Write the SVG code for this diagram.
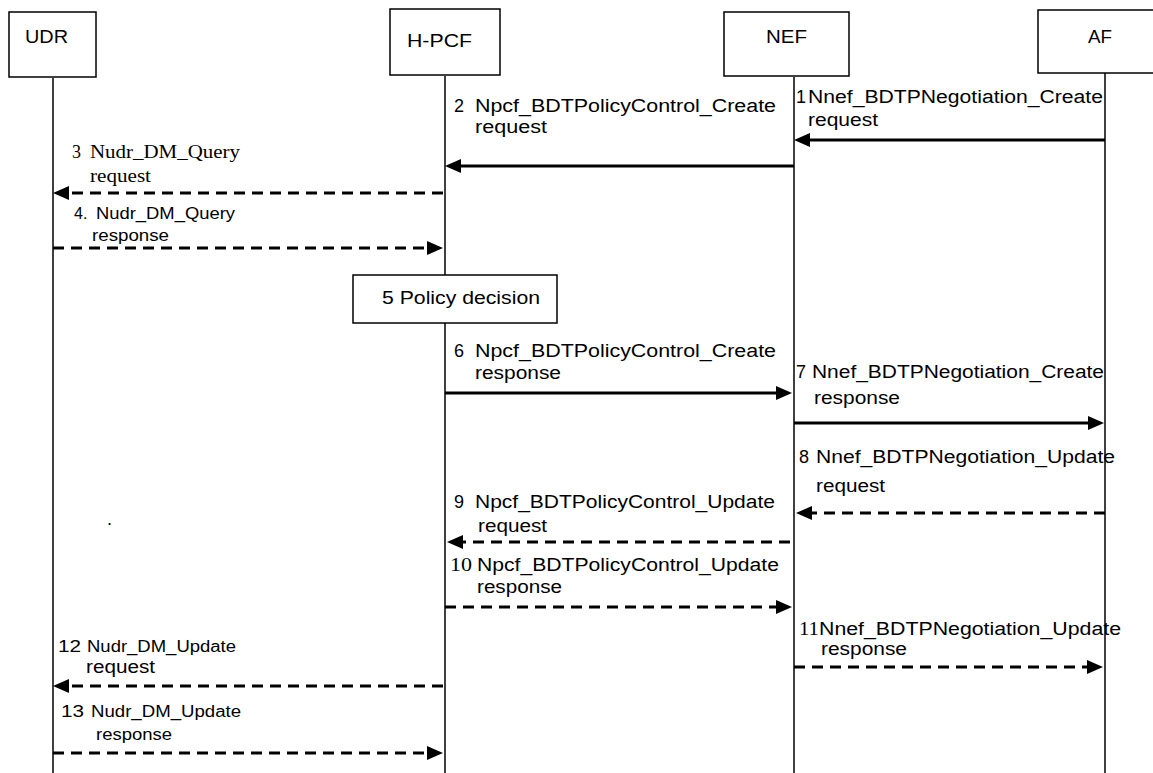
<svg xmlns="http://www.w3.org/2000/svg" width="1153" height="773" viewBox="0 0 1153 773">
<style>
.t{font-family:"Liberation Sans",Arial,sans-serif;font-size:18px;fill:#000}
.s{font-family:"Liberation Serif","Times New Roman",serif;font-size:18px;fill:#000}
.m{font-size:16px}
.box{fill:#fff;stroke:#000;stroke-width:1.5}
.life{stroke:#000;stroke-width:1.5}
.msg{stroke:#000;stroke-width:3;fill:none;marker-end:url(#ah)}
.d{stroke-dasharray:11 7}
</style>
<defs>
<marker id="ah" markerUnits="userSpaceOnUse" markerWidth="18" markerHeight="16" refX="6" refY="7" orient="auto" overflow="visible">
<path d="M0,0 L16,7 L0,14 z" fill="#000"/>
</marker>
</defs>
<rect width="1153" height="773" fill="#fff"/>
<g id="udr">
<line class="life" x1="53" y1="78" x2="53" y2="773"/>
<rect class="box" x="9" y="12" width="87" height="65"/>
<text class="t" x="25" y="43" textLength="43" lengthAdjust="spacingAndGlyphs">UDR</text>
</g>
<g id="hpcf">
<line class="life" x1="445" y1="76" x2="445" y2="773"/>
<rect class="box" x="390" y="9" width="110" height="66"/>
<text class="t" x="407" y="47" textLength="65" lengthAdjust="spacingAndGlyphs">H-PCF</text>
</g>
<g id="nef">
<line class="life" x1="794" y1="77" x2="794" y2="773"/>
<rect class="box" x="724" y="12" width="125" height="64"/>
<text class="t" x="766" y="43" textLength="41" lengthAdjust="spacingAndGlyphs">NEF</text>
</g>
<g id="af">
<line class="life" x1="1105" y1="73" x2="1105" y2="773"/>
<rect class="box" x="1038" y="10" width="130" height="63"/>
<text class="t" x="1088" y="43" textLength="24" lengthAdjust="spacingAndGlyphs">AF</text>
</g>
<g id="policy-decision">
<rect class="box" x="353" y="275" width="204" height="48"/>
<text class="t" x="382" y="304" textLength="158" lengthAdjust="spacingAndGlyphs">5 Policy decision</text>
</g>
<g id="connectors">
<g id="m1">
<line class="msg" x1="1105" y1="140" x2="804" y2="140"/>
<text class="t" x="796" y="103">1</text>
<text class="t" x="808" y="103" textLength="295" lengthAdjust="spacingAndGlyphs">Nnef_BDTPNegotiation_Create</text>
<text class="t" x="808" y="126" textLength="70" lengthAdjust="spacingAndGlyphs">request</text>
</g>
<g id="m2">
<line class="msg" x1="794" y1="166" x2="455" y2="166"/>
<text class="t" x="454" y="112">2</text>
<text class="t" x="475" y="112" textLength="301" lengthAdjust="spacingAndGlyphs">Npcf_BDTPolicyControl_Create</text>
<text class="t" x="475" y="133" textLength="72" lengthAdjust="spacingAndGlyphs">request</text>
</g>
<g id="m3">
<line class="msg d" x1="443" y1="193" x2="63" y2="193"/>
<text class="s" x="72" y="158">3</text>
<text class="s" x="90" y="158" textLength="150" lengthAdjust="spacingAndGlyphs">Nudr_DM_Query</text>
<text class="s" x="90" y="182" textLength="61" lengthAdjust="spacingAndGlyphs">request</text>
</g>
<g id="m4">
<line class="msg d" x1="53" y1="248" x2="433" y2="248"/>
<text class="t m" x="74" y="219">4.</text>
<text class="t m" x="96" y="219" textLength="139" lengthAdjust="spacingAndGlyphs">Nudr_DM_Query</text>
<text class="t m" x="92" y="241" textLength="77" lengthAdjust="spacingAndGlyphs">response</text>
</g>
<g id="m6">
<line class="msg" x1="445" y1="393" x2="782" y2="393"/>
<text class="t" x="454" y="357">6</text>
<text class="t" x="475" y="357" textLength="301" lengthAdjust="spacingAndGlyphs">Npcf_BDTPolicyControl_Create</text>
<text class="t" x="475" y="379" textLength="86" lengthAdjust="spacingAndGlyphs">response</text>
</g>
<g id="m7">
<line class="msg" x1="794" y1="423" x2="1094" y2="423"/>
<text class="t" x="796" y="378">7</text>
<text class="t" x="812" y="378" textLength="292" lengthAdjust="spacingAndGlyphs">Nnef_BDTPNegotiation_Create</text>
<text class="t" x="814" y="404" textLength="86" lengthAdjust="spacingAndGlyphs">response</text>
</g>
<g id="m8">
<line class="msg d" x1="1105" y1="513" x2="806" y2="513"/>
<text class="t" x="799" y="463">8</text>
<text class="t" x="816" y="463" textLength="299" lengthAdjust="spacingAndGlyphs">Nnef_BDTPNegotiation_Update</text>
<text class="t" x="816" y="492" textLength="69" lengthAdjust="spacingAndGlyphs">request</text>
</g>
<g id="m9">
<line class="msg d" x1="790" y1="542" x2="457" y2="542"/>
<text class="t" x="454" y="508">9</text>
<text class="t" x="475" y="508" textLength="300" lengthAdjust="spacingAndGlyphs">Npcf_BDTPolicyControl_Update</text>
<text class="t" x="478" y="532" textLength="69" lengthAdjust="spacingAndGlyphs">request</text>
</g>
<g id="m10">
<line class="msg d" x1="445" y1="607" x2="782" y2="607"/>
<text class="s" x="450" y="571" textLength="22" lengthAdjust="spacingAndGlyphs">10</text>
<text class="t" x="477" y="571" textLength="302" lengthAdjust="spacingAndGlyphs">Npcf_BDTPolicyControl_Update</text>
<text class="t" x="477" y="593" textLength="85" lengthAdjust="spacingAndGlyphs">response</text>
</g>
<g id="m11">
<line class="msg d" x1="794" y1="667" x2="1093" y2="667"/>
<text class="s" x="799" y="635" textLength="20" lengthAdjust="spacingAndGlyphs">11</text>
<text class="t" x="819" y="635" textLength="302" lengthAdjust="spacingAndGlyphs">Nnef_BDTPNegotiation_Update</text>
<text class="t" x="821" y="655" textLength="86" lengthAdjust="spacingAndGlyphs">response</text>
</g>
<g id="m12">
<line class="msg d" x1="443" y1="686" x2="63" y2="686"/>
<text class="t m" x="58" y="652" textLength="23" lengthAdjust="spacingAndGlyphs">12</text>
<text class="t m" x="87" y="652" textLength="149" lengthAdjust="spacingAndGlyphs">Nudr_DM_Update</text>
<text class="t" x="86" y="673" textLength="69" lengthAdjust="spacingAndGlyphs">request</text>
</g>
<g id="m13">
<line class="msg d" x1="53" y1="753" x2="433" y2="753"/>
<text class="t m" x="61" y="717" textLength="23" lengthAdjust="spacingAndGlyphs">13</text>
<text class="t m" x="91" y="717" textLength="150" lengthAdjust="spacingAndGlyphs">Nudr_DM_Update</text>
<text class="t m" x="96" y="740" textLength="76" lengthAdjust="spacingAndGlyphs">response</text>
</g>
</g>
<text class="t" x="107" y="525">.</text>
</svg>
